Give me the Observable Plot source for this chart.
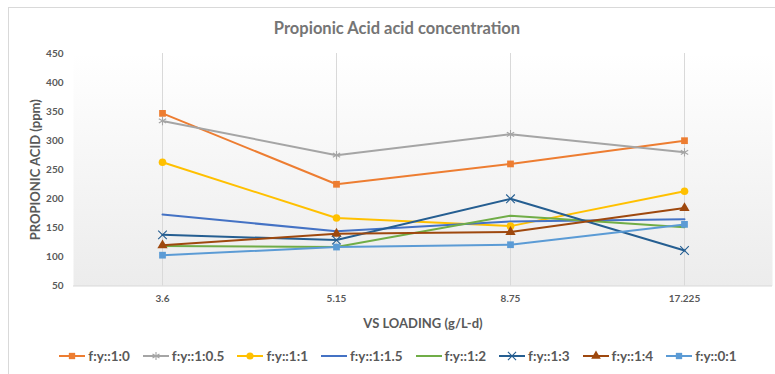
<!DOCTYPE html>
<html>
<head>
<meta charset="utf-8">
<script src="https://cdn.jsdelivr.net/npm/d3@7"></script>
<script src="https://cdn.jsdelivr.net/npm/@observablehq/plot@0.6"></script>
<style>
  html, body { margin: 0; padding: 0; background: #fff; }
  body { width: 775px; height: 374px; overflow: hidden; position: relative; font-family: Lato, "Open Sans", sans-serif; }
  #border { position: absolute; left: 8px; top: 7px; width: 820px; height: 420px; border: 1px solid #d9d9d9; }
  #title { position: absolute; left: 0; top: 18px; width: 794px; text-align: center; font-size: 16.5px; font-weight: 700; color: #757575; line-height: 20px; }
  #chart { position: absolute; left: 0; top: 45px; }
  #legend { position: absolute; left: 0; top: 347px; width: 796px; display: flex; justify-content: center; align-items: center; font-size: 13.5px; font-weight: 700; color: #595959; line-height: 18px; }
  .item { display: flex; align-items: center; margin: 0 6.5px; }
  .item svg { margin-right: 3px; }
</style>
</head>
<body>
<div id="border"></div>
<div id="title">Propionic Acid acid concentration</div>
<div id="chart"></div>
<div id="legend"></div>
<script>
const categories = ["3.6", "5.15", "8.75", "17.225"];
const seriesNames = ["f:y::1:0", "f:y::1:0.5", "f:y::1:1", "f:y::1:1.5", "f:y::1:2", "f:y::1:3", "f:y::1:4", "f:y::0:1"];
const s_1_0   = [347, 225, 260, 300];
const s_1_05  = [334, 275, 311, 280];
const s_1_1   = [263, 167, 153, 213];
const s_1_15  = [173, 144, 161, 165];
const s_1_2   = [119, 117, 171, 151];
const s_1_3   = [138, 129, 200, 111];
const s_1_4   = [120, 140, 143, 184];
const s_0_1   = [103, 117, 121, 156];
const yTicks = [50, 100, 150, 200, 250, 300, 350, 400, 450];

const seriesValues = [s_1_0, s_1_05, s_1_1, s_1_15, s_1_2, s_1_3, s_1_4, s_0_1];
const colors = ["#ED7D31", "#A5A5A5", "#FFC000", "#4472C4", "#70AD47", "#255E91", "#9E480E", "#5B9BD5"];
const markers = ["square", "asterisk", "circle", null, null, "times", "triangle", "square"];

const data = [];
seriesNames.forEach((s, i) => {
  categories.forEach((c, j) => data.push({series: s, x: c, y: seriesValues[i][j], marker: markers[i]}));
});
const filled = data.filter(d => d.marker === "square" || d.marker === "circle" || d.marker === "triangle");
const stroked = data.filter(d => d.marker === "asterisk" || d.marker === "times");

const symDomain = seriesNames.filter((s, i) => markers[i]);
const symRange = markers.filter(m => m);

const textColor = "#595959";
const chart = Plot.plot({
  width: 775,
  height: 290,
  marginTop: 8,
  marginBottom: 49.5,
  marginLeft: 73,
  marginRight: 3,
  style: {fontFamily: "Lato, 'Open Sans', sans-serif", fontSize: "10px", color: textColor, background: "transparent", overflow: "visible"},
  x: {type: "band", domain: categories, padding: 0},
  y: {domain: [50, 450]},
  color: {domain: seriesNames, range: colors},
  symbol: {domain: symDomain, range: symRange},
  marks: [
    Plot.frame({fill: "url(#plotbg)", stroke: "none"}),
    Plot.gridX(categories, {stroke: "#d9d9d9", strokeOpacity: 1, strokeWidth: 1}),
    Plot.ruleY([50], {stroke: "#d9d9d9", strokeWidth: 1}),
    Plot.axisY({ticks: yTicks, tickSize: 0, tickPadding: 10, fontWeight: 700, fill: textColor,
      label: "PROPIONIC ACID (ppm)", labelAnchor: "center", labelArrow: "none", labelOffset: 43}),
    Plot.axisX({tickSize: 0, tickPadding: 9, fontWeight: 700, fill: textColor,
      label: "VS LOADING (g/L-d)", labelAnchor: "center", labelArrow: "none", labelOffset: 42}),
    Plot.line(data, {x: "x", y: "y", z: "series", stroke: "series", strokeWidth: 2}),
    Plot.dot(filled, {x: "x", y: "y", symbol: "series", fill: "series", stroke: "none", r: 3.8}),
    Plot.dot(stroked, {x: "x", y: "y", symbol: "series", stroke: "series", fill: "none", r: 4, strokeWidth: 1.1})
  ]
});

// gradient definition for plot background
const svgNS = "http://www.w3.org/2000/svg";
const defs = document.createElementNS(svgNS, "defs");
defs.innerHTML = '<linearGradient id="plotbg" x1="0" y1="0" x2="0" y2="1"><stop offset="0" stop-color="#ffffff"/><stop offset="1" stop-color="#ececec"/></linearGradient>';
chart.insertBefore(defs, chart.firstChild);
// larger axis titles
chart.querySelectorAll("g[aria-label='x-axis label'], g[aria-label='y-axis label']").forEach(g => {
  g.setAttribute("font-size", "13px");
});
document.getElementById("chart").appendChild(chart);

// legend
const legend = d3.select("#legend");
seriesNames.forEach((s, i) => {
  const item = legend.append("div").attr("class", "item");
  const sw = item.append("svg").attr("width", 26).attr("height", 12);
  sw.append("line").attr("x1", 0).attr("x2", 26).attr("y1", 6).attr("y2", 6)
    .attr("stroke", colors[i]).attr("stroke-width", 2);
  const m = markers[i];
  if (m) {
    const symMap = {square: d3.symbolSquare, circle: d3.symbolCircle, triangle: d3.symbolTriangle, asterisk: d3.symbolAsterisk, times: d3.symbolTimes};
    const isStroke = m === "asterisk" || m === "times";
    sw.append("path").attr("transform", "translate(13,6)")
      .attr("d", d3.symbol(symMap[m], isStroke ? 45 : 40)())
      .attr("fill", isStroke ? "none" : colors[i])
      .attr("stroke", isStroke ? colors[i] : "none")
      .attr("stroke-width", 1.1);
  }
  item.append("span").text(s);
});
</script>
</body>
</html>
